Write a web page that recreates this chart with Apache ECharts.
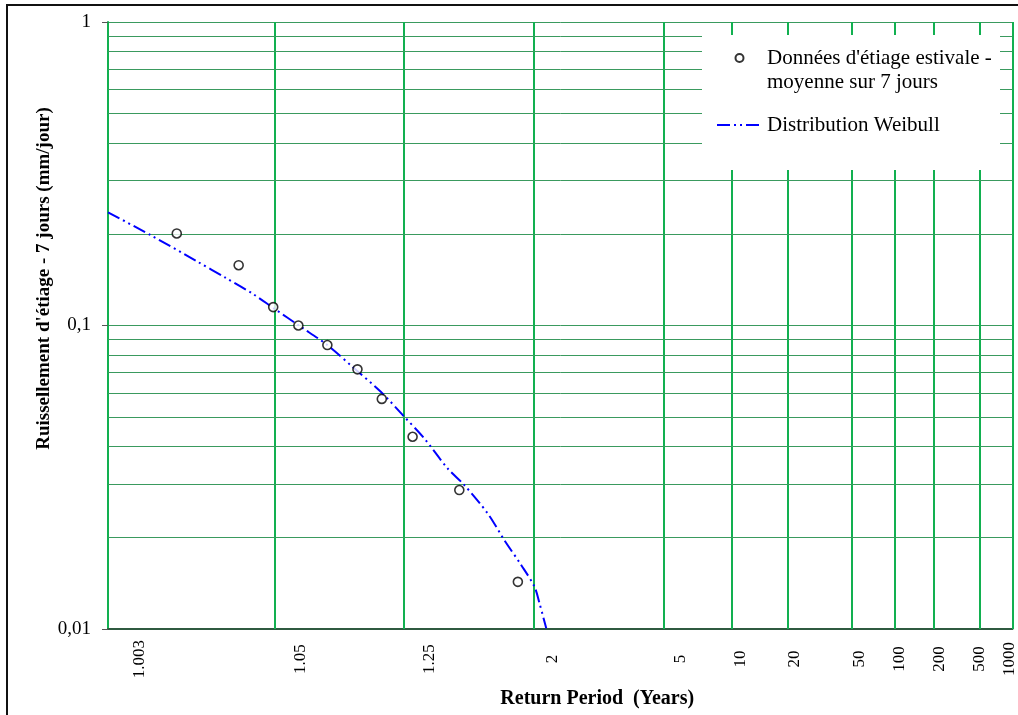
<!DOCTYPE html>
<html>
<head>
<meta charset="utf-8">
<script src="https://cdn.jsdelivr.net/npm/echarts@6/dist/echarts.min.js"></script>
<style>
  html, body { margin: 0; padding: 0; background: #fff; }
  #chart { width: 1018px; height: 715px; }
</style>
</head>
<body>
<div id="chart"></div>
<script>
// return period axis (normal probability paper)
const tickPeriods = [1.003, 1.05, 1.25, 2, 5, 10, 20, 50, 100, 200, 500, 1000];
const tickLabels = ['1.003', '1.05', '1.25', '2', '5', '10', '20', '50', '100', '200', '500', '1000'];
const periodMin = 1.003;
const periodMax = 1000;
const flowMinor = [0.02, 0.03, 0.04, 0.05, 0.06, 0.07, 0.08, 0.09, 0.2, 0.3, 0.4, 0.5, 0.6, 0.7, 0.8, 0.9];

// observed 7-day low flows
const obsPeriod = [1.0107, 1.0292, 1.0485, 1.0687, 1.1005, 1.1461, 1.1951, 1.2771, 1.4605, 1.8485];
const obsFlow = [0.201, 0.158, 0.115, 0.100, 0.0862, 0.0717, 0.0573, 0.0430, 0.0287, 0.0143];

// fitted Weibull
const fitPeriod = [1.003, 1.0067, 1.0151, 1.0238, 1.0358, 1.0489, 1.0708, 1.1005, 1.1403, 1.1928, 1.2521, 1.3141, 1.4066, 1.4857, 1.6213, 1.7386, 1.8779, 2.0072, 2.0606, 2.1368];
const fitFlow = [0.236, 0.1987, 0.1625, 0.1437, 0.1275, 0.1139, 0.0991, 0.0862, 0.0723, 0.0605, 0.0501, 0.0426, 0.0338, 0.0298, 0.0240, 0.0196, 0.01625, 0.01378, 0.01215, 0.01005];

const obsName = "Données d'étiage estivale -\nmoyenne sur 7 jours";
const fitName = 'Distribution Weibull';

// inverse standard normal (Acklam)
function normInv(p) {
  const a = [-3.969683028665376e+01, 2.209460984245205e+02, -2.759285104469687e+02, 1.383577518672690e+02, -3.066479806614716e+01, 2.506628277459239e+00];
  const b = [-5.447609879822406e+01, 1.615858368580409e+02, -1.556989798598866e+02, 6.680131188771972e+01, -1.328068155288572e+01];
  const c = [-7.784894002430293e-03, -3.223964580411365e-01, -2.400758277161838e+00, -2.549732539343734e+00, 4.374664141464968e+00, 2.938163982698783e+00];
  const d = [7.784695709041462e-03, 3.224671290700398e-01, 2.445134137142996e+00, 3.754408661907416e+00];
  const pl = 0.02425;
  let q, r;
  if (p < pl) {
    q = Math.sqrt(-2 * Math.log(p));
    return (((((c[0] * q + c[1]) * q + c[2]) * q + c[3]) * q + c[4]) * q + c[5]) / ((((d[0] * q + d[1]) * q + d[2]) * q + d[3]) * q + 1);
  }
  if (p <= 1 - pl) {
    q = p - 0.5; r = q * q;
    return (((((a[0] * r + a[1]) * r + a[2]) * r + a[3]) * r + a[4]) * r + a[5]) * q / (((((b[0] * r + b[1]) * r + b[2]) * r + b[3]) * r + b[4]) * r + 1);
  }
  q = Math.sqrt(-2 * Math.log(1 - p));
  return -(((((c[0] * q + c[1]) * q + c[2]) * q + c[3]) * q + c[4]) * q + c[5]) / ((((d[0] * q + d[1]) * q + d[2]) * q + d[3]) * q + 1);
}
const toZ = T => normInv(1 - 1 / T);

const serif = "'Liberation Serif', 'Times New Roman', serif";
const vGrid = '#12b050';
const hGrid = '#3a9a5e';
const tickZ = tickPeriods.map(toZ);

// labels sit a bit right of their gridlines in the original
const labelShift = [32, 25, 26, 19, 16, 8, 6, 8, 5, 7, 0, -3];
const labelRich = {};
labelShift.forEach((s, i) => {
  labelRich['s' + i] = {
    padding: s >= 0 ? [2 * s, 0, 0, 0] : [0, 0, -2 * s, 0],
    fontSize: 17, fontFamily: serif, color: '#000'
  };
});

const chart = echarts.init(document.getElementById('chart'));
chart.setOption({
  animation: false,
  backgroundColor: '#fff',
  grid: { left: 108, right: 5, top: 22, bottom: 86, containLabel: false },
  graphic: [
    { type: 'rect', z: 3, shape: { x: 702, y: 35, width: 298, height: 135 }, style: { fill: '#fff' } },
    { type: 'rect', z: 10, shape: { x: 7, y: 5, width: 1040, height: 740 }, style: { fill: 'none', stroke: '#111', lineWidth: 2 } }
  ],
  legend: {
    orient: 'vertical',
    left: 716,
    top: 22,
    z: 4,
    padding: 0,
    itemGap: 19,
    itemWidth: 45,
    itemHeight: 8,
    textStyle: { fontFamily: serif, fontSize: 21, color: '#000', lineHeight: 24 },
    // blank first line keeps the marker level with the first text line
    formatter: name => (name === obsName ? '\n' + name : name),
    data: [
      { name: obsName, icon: 'circle' },
      { name: fitName, itemStyle: { opacity: 0 } }
    ]
  },
  xAxis: {
    type: 'value',
    min: toZ(periodMin),
    max: toZ(periodMax),
    name: 'Return Period  (Years)',
    nameLocation: 'middle',
    nameGap: 60,
    nameMoveOverlap: false,
    nameTextStyle: { fontFamily: serif, fontSize: 20, fontWeight: 'bold', color: '#000', padding: [0, 0, 0, 74] },
    axisLine: { show: true, onZero: false, lineStyle: { color: '#2f5a40', width: 2 } },
    axisTick: { show: false },
    splitLine: { show: false },
    axisLabel: {
      customValues: tickZ,
      rotate: 90,
      align: 'center',
      verticalAlign: 'middle',
      margin: 30,
      formatter: v => {
        const i = tickZ.findIndex(z => Math.abs(z - v) < 1e-6);
        return i < 0 ? '' : `{s${i}|${tickLabels[i]}}`;
      },
      rich: labelRich
    }
  },
  yAxis: {
    type: 'log',
    logBase: 10,
    min: 0.01,
    max: 1,
    name: "Ruissellement d'étiage - 7 jours (mm/jour)",
    nameLocation: 'middle',
    nameGap: 54,
    nameMoveOverlap: false,
    nameTextStyle: { fontFamily: serif, fontSize: 19, fontWeight: 'bold', color: '#000', padding: [0, 0, 0, 94] },
    axisLine: { show: true, onZero: false, lineStyle: { color: vGrid, width: 2 } },
    axisTick: { show: true, length: 6, lineStyle: { color: '#555' } },
    splitLine: { show: true, lineStyle: { color: hGrid, width: 1 } },
    axisLabel: {
      fontFamily: serif,
      fontSize: 19,
      color: '#000',
      margin: 17,
      formatter: v => String(+v.toPrecision(3)).replace('.', ',')
    }
  },
  series: [
    {
      name: 'grid',
      type: 'line',
      data: [],
      z: 1,
      silent: true,
      markLine: {
        z: 1,
        silent: true,
        symbol: ['none', 'none'],
        label: { show: false },
        animation: false,
        data: [
          ...tickZ.map(z => ({ xAxis: z, lineStyle: { color: vGrid, width: 2, type: 'solid' } })),
          ...flowMinor.map(v => ({ yAxis: v, lineStyle: { color: hGrid, width: 1, type: 'solid' } }))
        ]
      }
    },
    {
      name: fitName,
      type: 'line',
      z: 3,
      data: fitPeriod.map((T, i) => [toZ(T), fitFlow[i]]),
      symbol: 'none',
      smooth: 0.3,
      lineStyle: { color: '#0000ff', width: 2, type: [13, 4, 2, 4, 2, 4] },
      itemStyle: { color: '#0000ff' }
    },
    {
      name: obsName,
      type: 'scatter',
      z: 4,
      data: obsPeriod.map((T, i) => [toZ(T), obsFlow[i]]),
      symbol: 'circle',
      symbolSize: 9,
      itemStyle: { color: '#fff', borderColor: '#000', borderWidth: 1.6 }
    }
  ]
});
</script>
</body>
</html>
